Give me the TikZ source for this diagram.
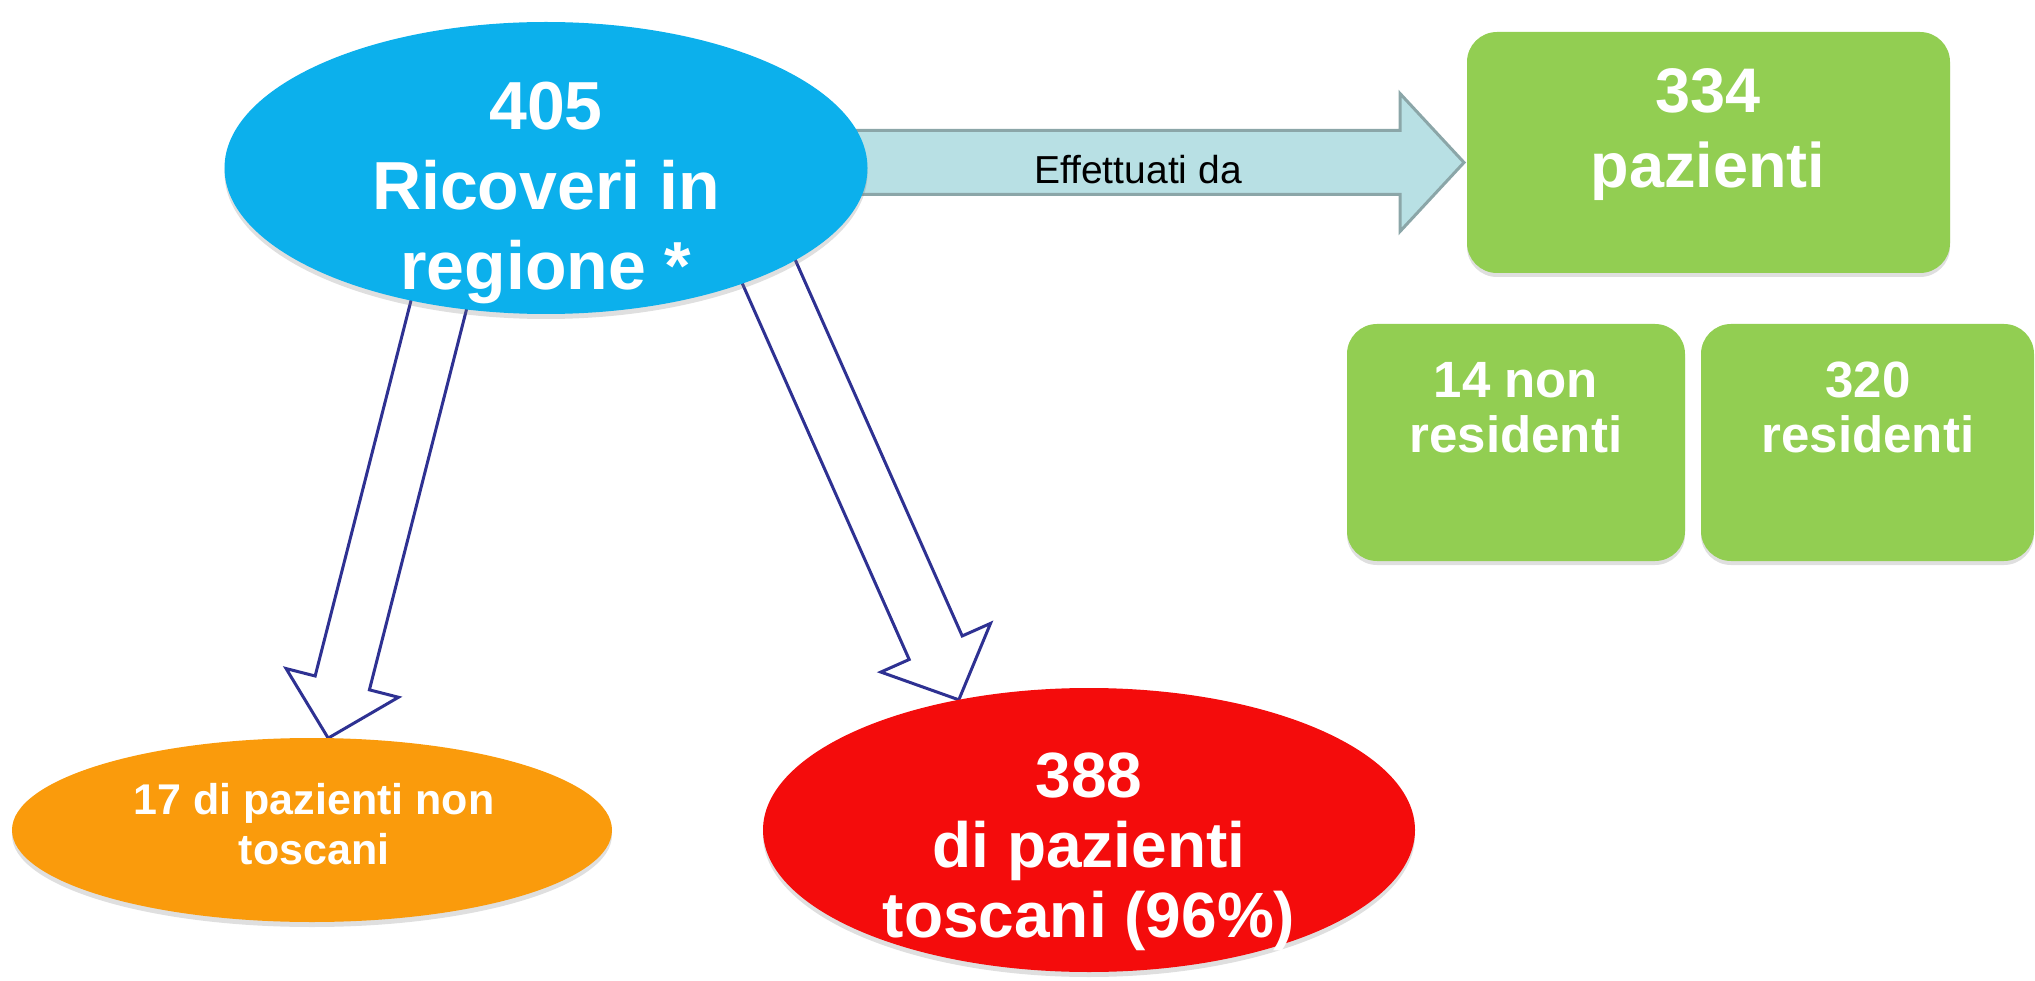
\documentclass[tikz,border=0pt]{standalone}
\usepackage{fontspec}
\usepackage{xcolor}
\usepackage{tikz}
\usetikzlibrary{calc,shapes,positioning,shadows}
\setmainfont{Liberation Sans}
\definecolor{bubbleblue}{RGB}{12,176,236}
\definecolor{boxgreen}{RGB}{146,206,82}
\definecolor{ovalorange}{RGB}{250,155,12}
\definecolor{ovalred}{RGB}{244,12,12}
\definecolor{flowfill}{RGB}{184,224,228}
\definecolor{flowedge}{RGB}{139,166,168}
\definecolor{arrowblue}{RGB}{46,49,146}
\pgfdeclarelayer{background}
\pgfsetlayers{background,main}

% block arrow: style, from, to, half shaft, half head, head length
\newcommand{\blockarrow}[6]{%
  \coordinate (neck) at ($(#3)!#6!(#2)$);
  \draw[#1] ($(#2)!#4!90:(#3)$) -- ($(neck)!#4!-90:(#2)$) -- ($(neck)!#5!-90:(#2)$) -- (#3)
    -- ($(neck)!#5!90:(#2)$) -- ($(neck)!#4!90:(#2)$) -- ($(#2)!#4!-90:(#3)$) -- cycle;
}

\begin{document}
\begin{tikzpicture}[x=1pt,y=-1pt]
  \tikzset{bubble/.style={ellipse,inner sep=0pt,outer sep=0pt,
             drop shadow={shadow xshift=0pt,shadow yshift=-5pt,opacity=.25}},
           tile/.style={rectangle,rounded corners=30pt,fill=boxgreen,inner sep=0pt,outer sep=0pt,
             drop shadow={shadow xshift=0pt,shadow yshift=-4pt,opacity=.25}},
           bigtxt/.style={text=white,align=center,inner sep=0pt,anchor=north},
           hollow/.style={draw=arrowblue,line width=3pt,fill=white},
           flow/.style={draw=flowedge,line width=3pt,fill=flowfill}}
  \useasboundingbox (0,0) rectangle (2035,981);

  % top
  \node[bubble,fill=bubbleblue,minimum width=643pt,minimum height=292pt] (ricoveri) at (546,168) {};
  \node[bigtxt,font=\bfseries\fontsize{68}{80}\selectfont] (ricoveri-txt) at (546,82) {405\\Ricoveri in\\regione *};

  % green boxes
  \node[tile,minimum width=483pt,minimum height=241pt] (pazienti) at (1708.5,152.5) {};
  \node[bigtxt,font=\bfseries\fontsize{63}{75}\selectfont] (pazienti-txt) at (1708,68) {334\\pazienti};

  \node[tile,minimum width=338pt,minimum height=237pt] (nonres) at (1516,442.5) {};
  \node[bigtxt,font=\bfseries\fontsize{51}{55}\selectfont] (nonres-txt) at (1516,362) {14 non\\residenti};

  \node[tile,minimum width=333pt,minimum height=237pt] (res) at (1867.5,442.5) {};
  \node[bigtxt,font=\bfseries\fontsize{51}{55}\selectfont] (res-txt) at (1868,362) {320\\residenti};

  % bottom
  \node[bubble,fill=ovalorange,minimum width=600pt,minimum height=184pt] (nontosc) at (312,830) {};
  \node[bigtxt,font=\bfseries\fontsize{43}{50}\selectfont] (nontosc-txt) at (314,783) {17 di pazienti non\\toscani};

  \node[bubble,fill=ovalred,minimum width=652pt,minimum height=284pt] (tosc) at (1089,830) {};
  \node[bigtxt,font=\bfseries\fontsize{64}{70}\selectfont] (tosc-txt) at (1089,753) {388\\di pazienti\\toscani (96\%)};

  \begin{pgfonlayer}{background}
    % effettuati da
    \coordinate (flowtip) at ($(pazienti.west)+(-3,10)$);
    \coordinate (flowfoot) at (ricoveri.center |- flowtip);
    \blockarrow{flow}{flowfoot}{flowtip}{32pt}{69pt}{64pt}

    % split
    \coordinate (leftfoot) at ($(ricoveri.center)!0.73!(ricoveri.225)$);
    \coordinate (rightfoot) at ($(ricoveri.center)!0.79!(ricoveri.342)$);
    \blockarrow{hollow}{leftfoot}{nontosc.80}{28pt}{58pt}{57pt}
    \blockarrow{hollow}{rightfoot}{tosc.135}{29pt}{60pt}{57pt}
  \end{pgfonlayer}
  \node[font=\fontsize{39}{45}\selectfont] (effettuati) at (1138,170) {Effettuati da};
\end{tikzpicture}
\end{document}
